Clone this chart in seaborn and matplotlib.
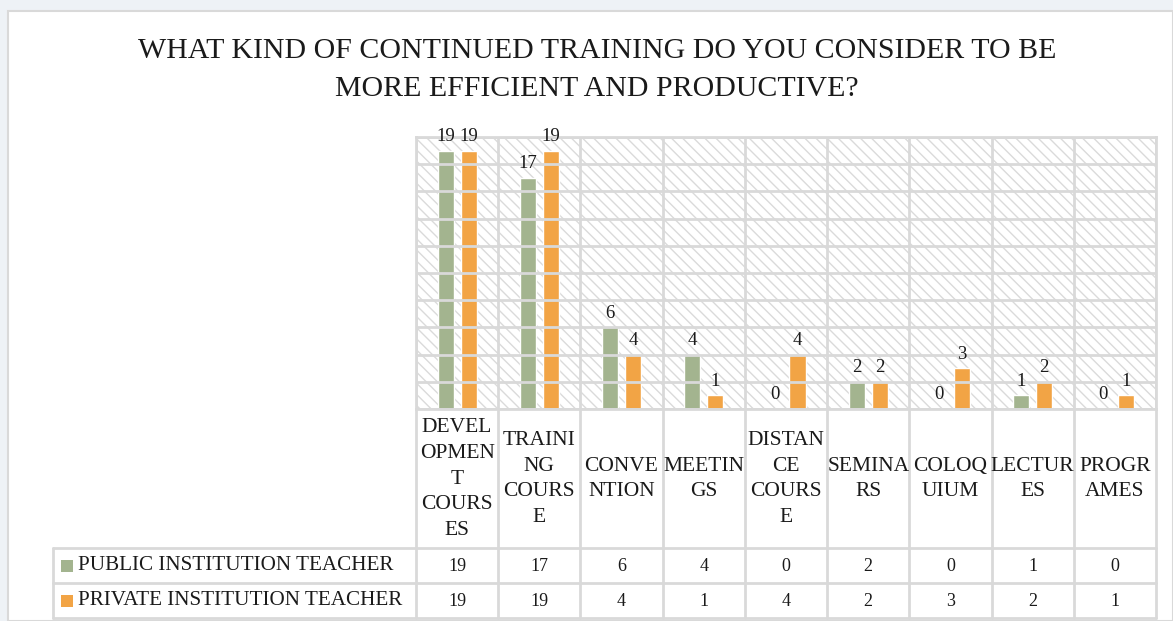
import numpy as np
import pandas as pd
import matplotlib.pyplot as plt
import seaborn as sns
from matplotlib.patches import Rectangle


categories = ["DEVELOPMENT COURSES", "TRAINING COURSE", "CONVENTION", "MEETINGS",
              "DISTANCE COURSE", "SEMINARS", "COLOQUIUM", "LECTURES", "PROGRAMES"]
# wrapped the way the cells of the original data table wrap them
category_labels = ["DEVEL\nOPMEN\nT\nCOURS\nES", "TRAINI\nNG\nCOURS\nE", "CONVE\nNTION",
                   "MEETIN\nGS", "DISTAN\nCE\nCOURS\nE", "SEMINA\nRS", "COLOQ\nUIUM",
                   "LECTUR\nES", "PROGR\nAMES"]
series = ["PUBLIC INSTITUTION TEACHER", "PRIVATE INSTITUTION TEACHER"]
public_values = [19, 17, 6, 4, 0, 2, 0, 1, 0]
private_values = [19, 19, 4, 1, 4, 2, 3, 2, 1]
colors = ["#A3B48F", "#F2A445"]
title = "WHAT KIND OF CONTINUED TRAINING DO YOU CONSIDER TO BE\nMORE EFFICIENT AND PRODUCTIVE?"

sns.set_theme(style="white")
plt.rcParams['font.family'] = ['Liberation Serif', 'DejaVu Serif']
plt.rcParams['hatch.color'] = '#DADADA'
plt.rcParams['hatch.linewidth'] = 1.0

W, H = 1173, 621
grid_col = '#D9D9D9'
txt_col = '#1a1a1a'


def fx(px):
    return px / W


def fy(py):
    return 1 - py / H


fig = plt.figure(figsize=(W / 100, H / 100), dpi=100, facecolor='#EEF2F6')
fig.add_artist(Rectangle((fx(8), 0), 1 - fx(8), fy(11), transform=fig.transFigure,
                         facecolor='white', edgecolor=grid_col, lw=1.5, zorder=0))

# plot area
left, right, top, bottom = 416, 1156, 137, 409
ax = fig.add_axes([fx(left), fy(bottom), fx(right - left), (bottom - top) / H])
ax.add_patch(Rectangle((0, 0), 1, 1, transform=ax.transAxes, facecolor='white',
                       edgecolor='#DADADA', hatch='\\\\\\', lw=0, zorder=0))

df = pd.DataFrame({
    "category": categories * 2,
    "series": [series[0]] * len(categories) + [series[1]] * len(categories),
    "value": public_values + private_values,
})
sns.barplot(data=df, x="category", y="value", hue="series", palette=colors,
            saturation=1, width=0.56, gap=0.3, legend=False, ax=ax, zorder=2)
for c in ax.containers:
    ax.bar_label(c, padding=4, fontsize=13.5, color=txt_col)

ax.set_xlim(-0.5, len(categories) - 0.5)
ax.set_ylim(0, 20)
ax.set_yticks(np.arange(0, 21, 2))
ax.set_xticks(np.arange(-0.5, len(categories), 1.0))
ax.set_xticklabels([])
ax.set_yticklabels([])
ax.tick_params(length=0)
ax.set_xlabel("")
ax.set_ylabel("")
ax.grid(True, color=grid_col, lw=2, zorder=1)
ax.set_axisbelow(False)
for s in ax.spines.values():
    s.set_color(grid_col)
    s.set_linewidth(2)

# data table drawn on an overlay in pixel coordinates
tab = fig.add_axes([0, 0, 1, 1])
tab.set_xlim(0, W)
tab.set_ylim(H, 0)
tab.axis('off')
tab.patch.set_visible(False)

col_x = left + np.arange(len(categories) + 1) * (right - left) / len(categories)
colw = col_x[1] - col_x[0]
row_y = [548, 583, 618]
for x in col_x:
    tab.plot([x, x], [bottom, row_y[-1]], color=grid_col, lw=2)
tab.plot([53, 53], [row_y[0], row_y[-1]], color=grid_col, lw=2)
for y in row_y:
    tab.plot([53, right], [y, y], color=grid_col, lw=2)

for i, lab in enumerate(category_labels):
    tab.text(col_x[i] + colw / 2, 479, lab, ha='center', va='center',
             multialignment='center', fontsize=15.5, linespacing=1.48, color=txt_col)

for r, (name, vals, col) in enumerate(zip(series, [public_values, private_values], colors)):
    yc = (row_y[r] + row_y[r + 1]) / 2
    tab.add_patch(Rectangle((61, yc - 6), 12, 12, facecolor=col, lw=0))
    tab.text(78, yc, name, ha='left', va='center', fontsize=15.2, color=txt_col)
    for i, v in enumerate(vals):
        tab.text(col_x[i] + colw / 2, yc + 1, str(v), ha='center', va='center',
                 fontsize=13, color=txt_col)

fig.text(fx(597), fy(70), title, ha='center', va='center', fontsize=21.5,
         linespacing=1.55, color=txt_col)

plt.savefig("out.png", dpi=100, facecolor=fig.get_facecolor())
